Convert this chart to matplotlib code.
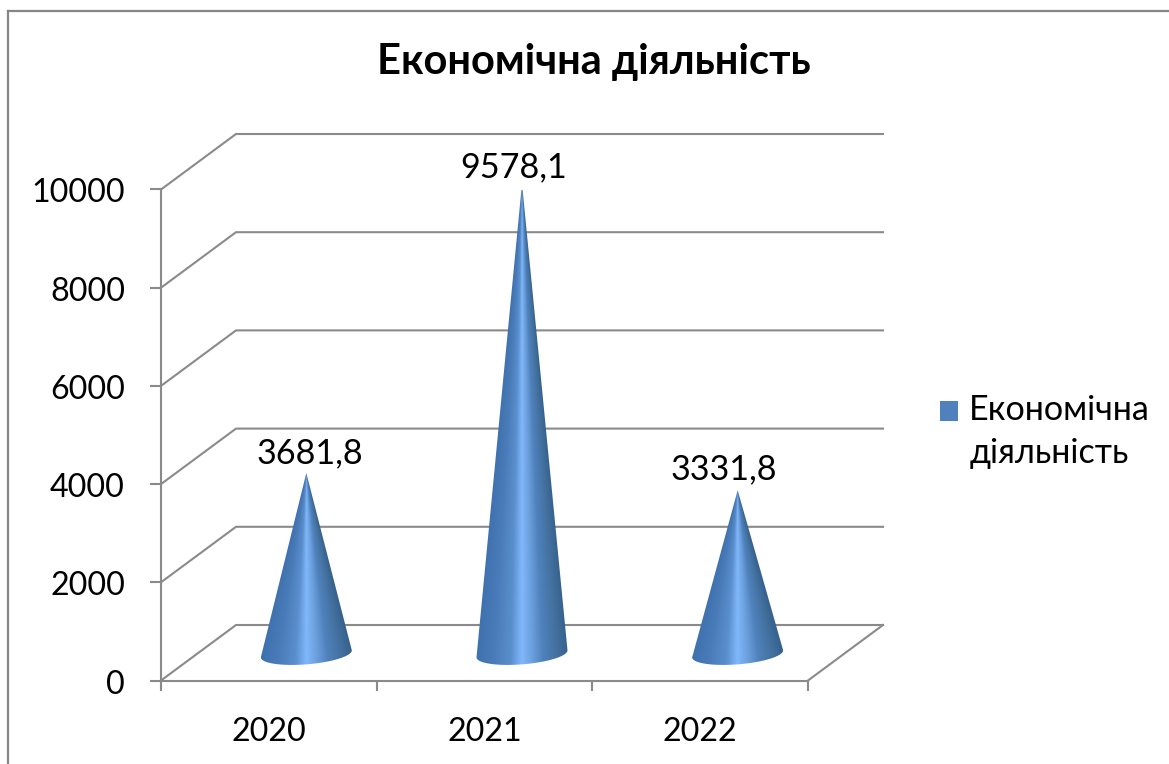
import numpy as np
import matplotlib
matplotlib.use("Agg")
import matplotlib.pyplot as plt
from matplotlib.colors import LinearSegmentedColormap
from matplotlib.legend_handler import HandlerPatch
from matplotlib.lines import Line2D
from matplotlib.patches import PathPatch, Patch, Rectangle
from matplotlib.path import Path
from matplotlib.transforms import ScaledTranslation

# Data
categories = ["2020", "2021", "2022"]
values = [3681.8, 9578.1, 3331.8]
series_name = "Економічна\nдіяльність"
title_text = "Економічна діяльність"
y_ticks = [0, 2000, 4000, 6000, 8000, 10000]

W, H = 1169, 764
FONT = ["Lato", "Open Sans", "DejaVu Sans"]
plt.rcParams["font.family"] = FONT
GRID = "#8a8a8a"
LW = 1.5

fig = plt.figure(figsize=(W / 100, H / 100), dpi=100, facecolor="white")
ax = fig.add_axes([161 / W, 1 - 680.5 / H, 647 / W, 491 / H])
ax.set_xlim(-0.5, 2.5)
ax.set_ylim(0, 10000)
ax.patch.set_visible(False)

px_x = 3 / 647          # data units per pixel
px_y = 10000 / 491
depth_x, depth_y = 75 * px_x, 55.5 * px_y

# walls and floor
x0, x1 = ax.get_xlim()
for v in y_ticks:
    ax.plot([x0, x0 + depth_x, x1 + depth_x], [v, v + depth_y, v + depth_y],
            color=GRID, lw=LW, clip_on=False, zorder=1, solid_joinstyle="miter")
ax.plot([x1, x1 + depth_x], [0, depth_y], color=GRID, lw=LW, clip_on=False, zorder=1)

for s in ("top", "right"):
    ax.spines[s].set_visible(False)
for s in ("left", "bottom"):
    ax.spines[s].set_color(GRID)
    ax.spines[s].set_linewidth(LW)

ax.set_yticks(y_ticks)
ax.tick_params(axis="y", length=8, width=LW, color=GRID, pad=18, labelsize=23.2, labelcolor="black")
for lab in ax.get_yticklabels():
    lab.set_transform(lab.get_transform() + ScaledTranslation(0, -1 / 100, fig.dpi_scale_trans))
xpos = np.arange(len(categories))
ax.set_xticks(xpos, categories)
ax.set_xticks(np.arange(len(categories) + 1) - 0.5, minor=True)
ax.tick_params(axis="x", which="major", length=0, pad=26, labelsize=23.2, labelcolor="black")
ax.tick_params(axis="x", which="minor", length=7, width=LW, color=GRID)

# cones
cmap = LinearSegmentedColormap.from_list("cone", [
    (0.00, "#3f71ae"), (0.20, "#4a7cb9"), (0.38, "#5a8fcd"), (0.50, "#80b8fc"),
    (0.62, "#6a9edb"), (0.73, "#4f82bd"), (0.88, "#44719f"), (1.00, "#37628f")])
half_w = 45.5 * px_x
ell_b = 10.5 * px_y
tilt = 3.5 * px_y / half_w
base_y = depth_y * 0.48
label_offsets = [(4, 4), (-8, 0), (-14, 5)]   # pixel nudges from the cone tip

for x, val, off in zip(xpos, values, label_offsets):
    xc = x + depth_x / 2
    top = base_y + val
    t = np.linspace(0, -np.pi, 80)
    ex = xc + half_w * np.cos(t)
    ey = base_y + ell_b * np.sin(t) + tilt * (ex - xc)
    vx = np.r_[xc, ex, xc]
    vy = np.r_[top, ey, top]
    patch = PathPatch(Path(np.column_stack([vx, vy])), facecolor="none", edgecolor="none", zorder=3)
    ax.add_patch(patch)
    ylo = ey.min() - 40
    xs = np.linspace(xc - half_w, xc + half_w, 300)
    ys = np.linspace(ylo, top, 700)
    XX, YY = np.meshgrid(xs, ys)
    frac = np.clip((top - YY) / (top - base_y), 0.003, 1)
    u = (XX - xc) / (half_w * frac)
    rgba = cmap(np.clip((u + 1) / 2, 0, 1))
    im = ax.imshow(rgba, origin="lower", extent=(xs[0], xs[-1], ys[0], ys[-1]),
                   aspect="auto", interpolation="bilinear", zorder=3, clip_on=True)
    im.set_clip_path(patch)
    ax.annotate(f"{val}".replace(".", ","), xy=(xc, top),
                xytext=(off[0] * 0.72, off[1] * 0.72), textcoords="offset points",
                ha="center", va="bottom", fontsize=24.6, color="black",
                annotation_clip=False, zorder=4)

ax.set_xlim(x0, x1)
ax.set_ylim(0, 10000)

fig.text(593.5 / W, 1 - 62 / H, title_text, ha="center", va="center",
         fontsize=30, fontweight="bold", color="black")


def legend_square(legend, orig_handle, xdescent, ydescent, width, height, fontsize):
    return Rectangle((-xdescent, -ydescent + 15.5), width, height)


leg = fig.legend(handles=[Patch(facecolor="#4f81bd", edgecolor="none", label=series_name)],
                 loc="upper left", bbox_to_anchor=(939.5 / W, 1 - 394 / H), frameon=False,
                 fontsize=24.6, handlelength=0.55, handleheight=0.55, handletextpad=0.32,
                 borderpad=0, borderaxespad=0, alignment="left",
                 handler_map={Patch: HandlerPatch(patch_func=legend_square)})
for txt in leg.get_texts():
    txt.set_linespacing(1.42)

# chart frame
for xs_, ys_ in (([8, 8], [764, 11]), ([8, 1169], [11, 11])):
    fig.add_artist(Line2D([a / W for a in xs_], [1 - b / H for b in ys_],
                          transform=fig.transFigure, color="#868686", lw=1.6,
                          solid_joinstyle="miter"))

fig.savefig("out.png", dpi=100, facecolor="white")
